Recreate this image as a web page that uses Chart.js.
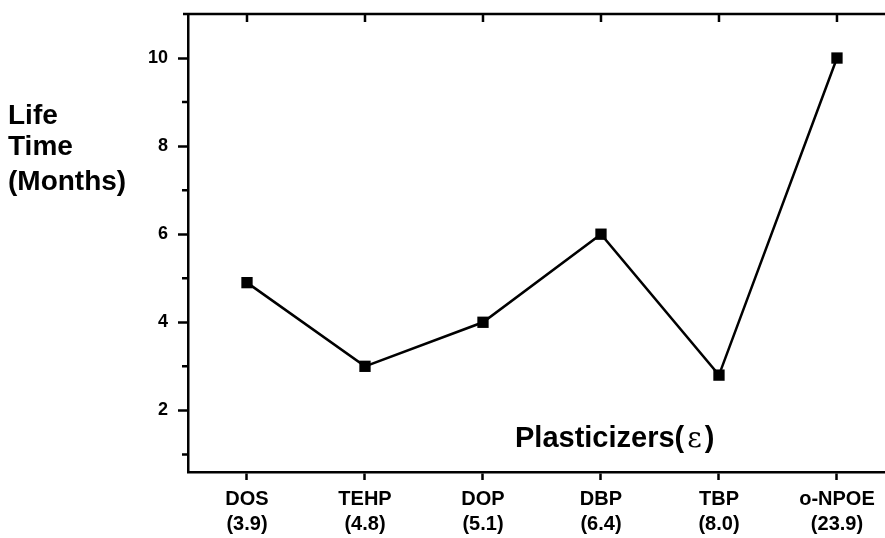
<!DOCTYPE html>
<html>
<head>
<meta charset="utf-8">
<script src="https://cdn.jsdelivr.net/npm/chart.js@4/dist/chart.umd.min.js"></script>
<style>
body{margin:0;background:#fff;overflow:hidden}
#caixa{width:885px;height:538px;position:relative}
</style>
</head>
<body>
<div id="caixa"><canvas id="grafico"></canvas></div>
<script>
//#Dados do grafico
const plastificantes = ['DOS', 'TEHP', 'DOP', 'DBP', 'TBP', 'o-NPOE']
const epsilon = ['3.9', '4.8', '5.1', '6.4', '8.0', '23.9']
const vida = [4.9, 3.0, 4.0, 6.0, 2.8, 10.0] // meses
const yMaiores = [2, 4, 6, 8, 10]
const yMenores = [1, 3, 5, 7, 9]
const tituloY = ['Life', 'Time', '(Months)']

const fonteSans = "'Liberation Sans', Arial, sans-serif"

// desenha a linha de cima, os ticks menores e os titulos
const extras = {
    id: 'extras',
    afterDraw(chart) {
        const ctx = chart.ctx
        const ca = chart.chartArea
        const x = chart.scales.x
        const y = chart.scales.y
        ctx.save()
        ctx.strokeStyle = '#000'
        ctx.lineWidth = 2.5
        ctx.beginPath()
        ctx.moveTo(ca.left - 5, ca.top)
        ctx.lineTo(ca.right, ca.top)
        plastificantes.forEach((p, i) => {
            let px = x.getPixelForValue(i)
            ctx.moveTo(px, ca.top)
            ctx.lineTo(px, ca.top + 8)
        })
        yMenores.forEach(v => {
            let py = y.getPixelForValue(v)
            ctx.moveTo(ca.left - 6, py)
            ctx.lineTo(ca.left, py)
        })
        ctx.stroke()

        ctx.fillStyle = '#000'
        ctx.textBaseline = 'alphabetic'
        ctx.textAlign = 'left'
        ctx.font = 'bold 28px ' + fonteSans
        let linhas = [124, 155, 190]
        tituloY.forEach((t, i) => ctx.fillText(t, 8, linhas[i]))

        // Plasticizers(ε)
        ctx.font = 'bold 29px ' + fonteSans
        let tx = 515
        let parte1 = 'Plasticizers('
        ctx.fillText(parte1, tx, 447)
        tx += ctx.measureText(parte1).width + 3
        ctx.font = '28px "DejaVu Serif", serif'
        ctx.fillText('ε', tx, 447)
        tx += ctx.measureText('ε').width + 3
        ctx.font = 'bold 29px ' + fonteSans
        ctx.fillText(')', tx, 447)
        ctx.restore()
    }
}

const ctx = document.getElementById('grafico').getContext('2d')
const grafico = new Chart(ctx, {
    type: 'line',
    data: {
        datasets: [{
            label: 'Life Time',
            data: vida.map((v, i) => ({x: i, y: v})),
            borderColor: '#000',
            borderWidth: 2.5,
            backgroundColor: '#000',
            pointStyle: 'rect',
            pointRadius: 8,
            pointHoverRadius: 8,
            pointBorderWidth: 0,
            tension: 0,
            clip: false
        }]
    },
    options: {
        responsive: true,
        maintainAspectRatio: false,
        devicePixelRatio: 1,
        animation: false,
        layout: {autoPadding: false, padding: {top: 14, left: 0, right: 0, bottom: 0}},
        plugins: {legend: {display: false}, tooltip: {enabled: false}},
        scales: {
            x: {
                type: 'linear',
                min: -0.5,
                max: 5.407,
                afterBuildTicks: s => { s.ticks = plastificantes.map((p, i) => ({value: i})) },
                afterFit: s => { s.height = 66; s.paddingLeft = 0; s.paddingRight = 0 },
                border: {display: true, color: '#000', width: 2.5},
                grid: {drawOnChartArea: false, drawTicks: true, tickLength: 8, tickColor: '#000', tickWidth: 2.5},
                ticks: {
                    autoSkip: false,
                    maxRotation: 0,
                    padding: 7,
                    color: '#000',
                    font: {family: fonteSans, size: 20, weight: 'bold', lineHeight: 1.25},
                    callback: v => [plastificantes[v], '(' + epsilon[v] + ')']
                }
            },
            y: {
                type: 'linear',
                min: 0.6,
                max: 11,
                afterBuildTicks: s => { s.ticks = yMaiores.map(v => ({value: v})) },
                afterFit: s => { s.width = 188; s.paddingTop = 0; s.paddingBottom = 0 },
                border: {display: true, color: '#000', width: 2.5},
                grid: {drawOnChartArea: false, drawTicks: true, tickLength: 10, tickColor: '#000', tickWidth: 2.5},
                ticks: {
                    padding: 10,
                    color: '#000',
                    font: {family: fonteSans, size: 18, weight: 'bold'}
                }
            }
        }
    },
    plugins: [extras]
})
</script>
</body>
</html>
